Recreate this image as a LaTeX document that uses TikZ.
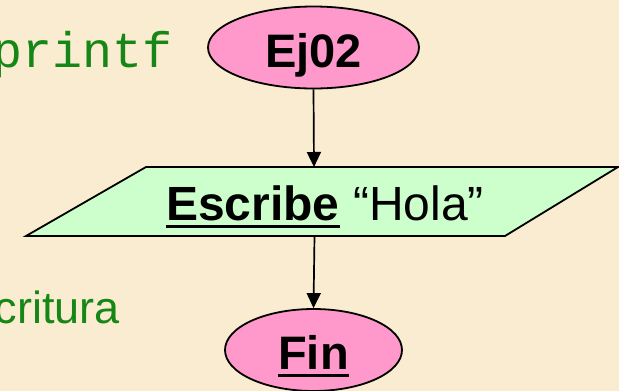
\documentclass[tikz,border=0pt]{standalone}
\usepackage{fontspec}
\setmainfont{Liberation Sans}
\newfontfamily\codefont{Liberation Mono}
\usetikzlibrary{shapes.geometric,arrows.meta}
\definecolor{bgbeige}{RGB}{250,236,208}
\definecolor{termpink}{RGB}{255,153,204}
\definecolor{iogreen}{RGB}{204,255,204}
\definecolor{txtgreen}{RGB}{22,135,22}
\tikzset{
  term/.style={ellipse, draw=black, line width=1.8pt, fill=termpink, inner sep=0pt},
  flow/.style={line width=1.7pt, -{Triangle[length=15pt,width=14pt]}},
  lbl/.style={inner sep=0pt, text=black},
  side/.style={inner sep=0pt, text=txtgreen},
  uline/.style={line width=3pt}
}
\begin{document}
\begin{tikzpicture}[x=1pt,y=-1pt]
\fill[bgbeige] (0,0) rectangle (619,391);
\useasboundingbox (0,0) rectangle (619,391);
% side texts
\node[side, anchor=base west] (pf) at (-8,67) {\fontsize{50}{50}\selectfont\codefont printf};
\node[side, anchor=base east] (esc2) at (120,323) {\fontsize{45}{45}\selectfont Escritura};
% start
\node[term, minimum width=211pt, minimum height=82pt] (ej) at (313.5,47.5) {};
\node[lbl, anchor=base] (ejt) at (313.5,67) {\fontsize{47}{47}\selectfont\bfseries Ej02};
% output parallelogram
\coordinate (ptl) at (146,167);
\coordinate (ptr) at (618,167);
\coordinate (pbr) at (505,236);
\coordinate (pbl) at (26,236);
\draw[line width=1.8pt, fill=iogreen] (ptl) -- (ptr) -- (pbr) -- (pbl) -- cycle;
\coordinate (pin) at (314,167);
\coordinate (pout) at (314.5,236);
\node[lbl, anchor=base west] (esc) at (166,220) {\fontsize{48}{48}\selectfont\bfseries Escribe};
\node[lbl, anchor=base west] (hola) at ([xshift=13pt]esc.base east) {\fontsize{48}{48}\selectfont “Hola”};
\draw[uline] ([yshift=-6pt]esc.base west) -- ([yshift=-6pt]esc.base east);
% end
\node[term, minimum width=177pt, minimum height=82pt] (fin) at (313.5,350) {};
\node[lbl, anchor=base] (fint) at (313.5,369) {\fontsize{47}{47}\selectfont\bfseries Fin};
\draw[uline] ([yshift=-6pt]fint.base west) -- ([yshift=-6pt]fint.base east);
% connectors
\draw[flow] (ej.south) -- (pin);
\draw[flow] (pout) -- (fin.north);
\end{tikzpicture}
\end{document}
